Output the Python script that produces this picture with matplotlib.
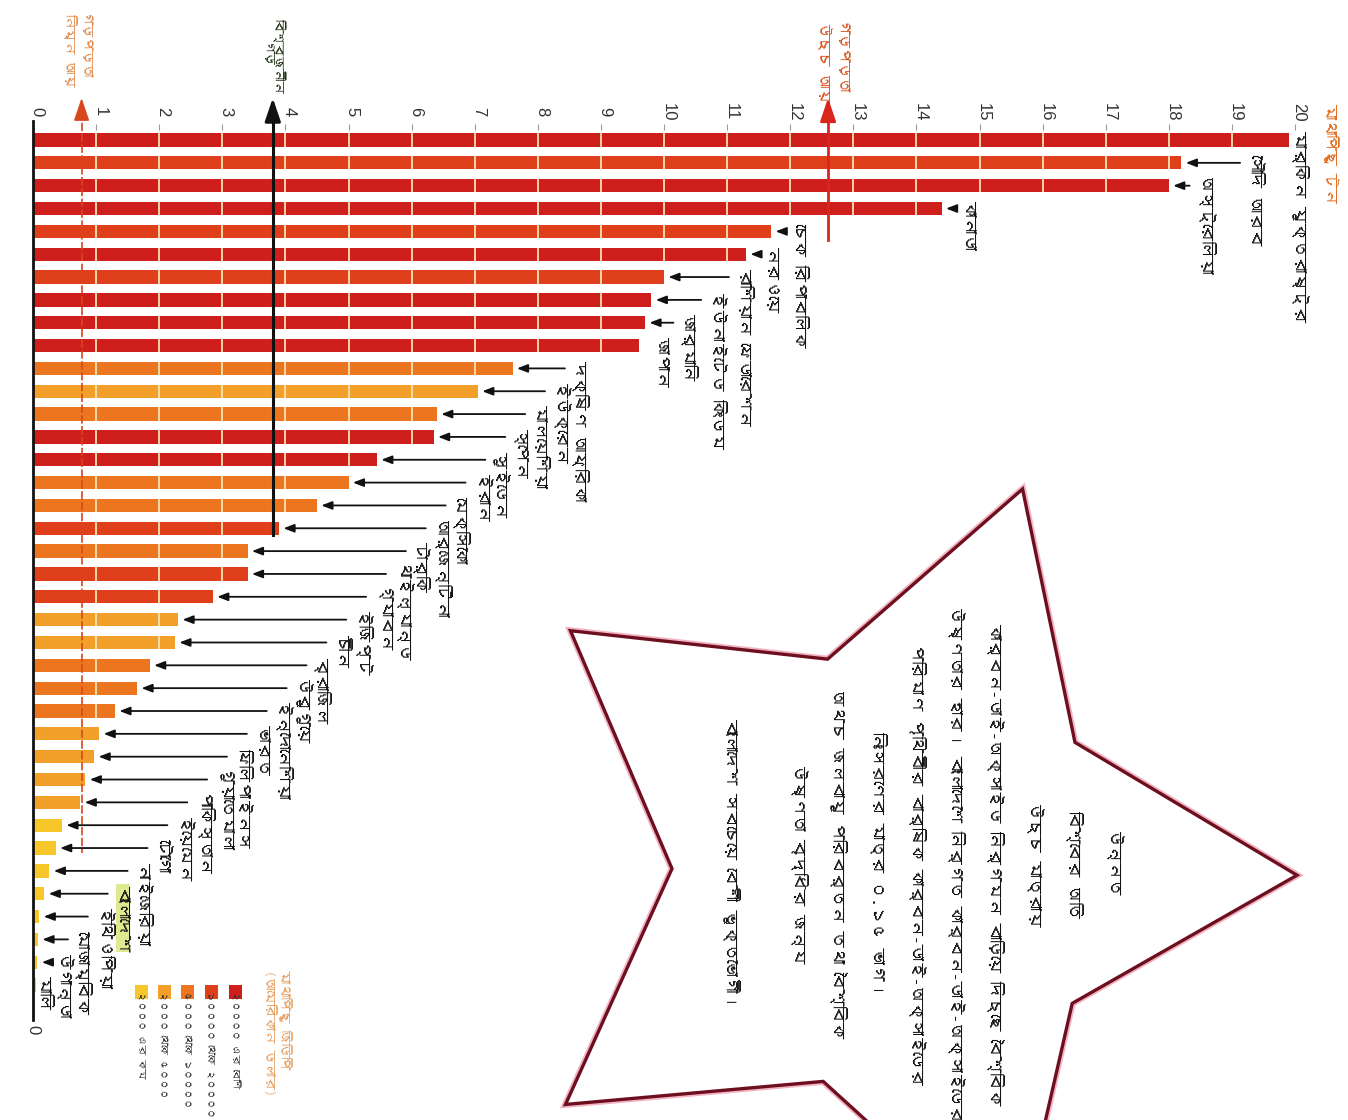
import numpy as np
import matplotlib
matplotlib.use("Agg")
import matplotlib.pyplot as plt
from matplotlib import font_manager
from matplotlib.patches import Polygon, Rectangle

# ---------------- data ----------------
countries = [
    "মার্কিন যুক্তরাষ্ট্র", "সৌদি আরব", "অস্ট্রেলিয়া", "কানাডা", "চেক রিপাবলিক",
    "নরওয়ে", "রাশিয়ান ফেডারেশন", "ইউনাইটেড কিংডম", "জার্মানি", "জাপান",
    "দক্ষিণ আফ্রিকা", "ইউক্রেন", "মালয়েশিয়া", "স্পেন", "সুইডেন", "ইরান",
    "মেক্সিকো", "আর্জেন্টিনা", "টার্কি", "থাইল্যান্ড", "গ্যাবন", "ইজিপ্ট",
    "চীন", "ব্রাজিল", "উরুগুয়ে", "ইন্দোনেশিয়া", "ভারত", "ফিলিপাইনস",
    "গুয়াতেমালা", "পাকিস্তান", "ইয়েমেন", "টোগো", "নাইজেরিয়া", "বাংলাদেশ",
    "ইথিওপিয়া", "মোজাম্বিক", "উগান্ডা", "মালি",
]
co2_per_capita = [
    19.9, 18.2, 18.0, 14.4, 11.7, 11.3, 10.0, 9.8, 9.7, 9.6,
    7.6, 7.05, 6.4, 6.35, 5.45, 5.0, 4.5, 3.9, 3.4, 3.4, 2.85, 2.3,
    2.25, 1.85, 1.65, 1.3, 1.05, 0.97, 0.83, 0.75, 0.46, 0.36, 0.26, 0.18,
    0.1, 0.08, 0.07, 0.05,
]
# GDP class: 0 = >20000, 1 = 10000-20000, 2 = 5000-10000, 3 = 2000-5000, 4 = <2000
gdp_class = [
    0, 1, 0, 0, 1, 0, 1, 0, 0, 0,
    2, 3, 2, 0, 0, 2, 2, 1, 2, 1, 1, 3,
    3, 2, 2, 2, 3, 3, 3, 3, 4, 4, 4, 4,
    4, 4, 4, 4,
]
gdp_legend_labels = ["২০০০০ এর বেশি", "১০০০০ থেকে ২০০০০", "৫০০০ থেকে ১০০০০",
                     "২০০০ থেকে ৫০০০", "২০০০ এর কম"]
ref_high_income = 12.6
ref_world = 3.8
ref_low_income = 0.77
tick_values = list(range(0, 21))

star_lines = [
    "উন্নত", "বিশ্বের অতি", "উচ্চ মাত্রায়",
    "কার্বন-ডাই-অক্সাইড নির্গমন বাড়িয়ে দিচ্ছে বৈশ্বিক",
    "উষ্ণতার হার। বাংলাদেশে নির্গত কার্বন-ডাই-অক্সাইডের",
    "পরিমাণ পৃথিবীর বার্ষিক কার্বন-ডাই-অক্সাইডের",
    "নিঃসরণের মাত্র ০.১৫ ভাগ।",
    "অথচ জলবায়ু পরিবর্তন তথা বৈশ্বিক",
    "উষ্ণতা বৃদ্ধির জন্য", "",
    "বাংলাদেশ সবচেয়ে বেশী ভুক্তভোগী।",
]

# ---------------- fonts ----------------
def find_bengali_font():
    from matplotlib.ft2font import FT2Font
    seen = set()
    for f in font_manager.fontManager.ttflist:
        if f.fname in seen:
            continue
        seen.add(f.fname)
        try:
            cm = FT2Font(f.fname).get_charmap()
        except Exception:
            continue
        if 0x0995 in cm and 0x09BE in cm:
            return f.name
    return None

bn = find_bengali_font()
FAM = [bn, "DejaVu Sans"] if bn else ["DejaVu Sans"]
plt.rcParams["font.family"] = FAM

class_colors = ["#cf1f1d", "#e03f1c", "#ec7620", "#f3a02a", "#f7c62b"]

# ---------------- layout ----------------
W, H = 1348, 1120
X0, PX = 33.0, 63.1       # pixel of value 0, pixels per unit
Y0, ROW = 140.0, 22.84    # pixel of first row, pixels per row

def dx(px):
    return (px - X0) / PX

def dy(py):
    return (py - Y0) / ROW

fig = plt.figure(figsize=(W / 100, H / 100), dpi=100)
fig.patch.set_facecolor("white")
ax = fig.add_axes([0, 0, 1, 1])
ax.set_xlim(dx(0), dx(W))
ax.set_ylim(dy(H), dy(0))
ax.axis("off")

n = len(countries)
rows = np.arange(n)
bar_h = 0.58
colors = [class_colors[c] for c in gdp_class]
ax.barh(rows, co2_per_capita, height=bar_h, color=colors, left=0, zorder=2)

# light separators inside bars at every unit
sx, sy0, sy1 = [], [], []
for i, v in enumerate(co2_per_capita):
    for k in range(1, int(np.floor(v)) + 1):
        if k < v - 0.05:
            sx.append(k); sy0.append(i - bar_h / 2); sy1.append(i + bar_h / 2)
ax.vlines(sx, sy0, sy1, colors="#fbe2b0", lw=1.3, zorder=3)

# value axis line and ticks
ax.plot([0, 0], [dy(121), dy(1020)], color="#111", lw=2, zorder=4)
for v in tick_values:
    ax.text(v + 0.06, dy(112), str(v), rotation=-90, ha="center", va="center",
            fontsize=12, color="#333", family="Liberation Sans")
ax.vlines(tick_values[1:], dy(124), dy(130), colors="#999", lw=0.8)
ax.text(0, dy(1030), "0", rotation=-90, ha="center", va="center",
        fontsize=12, color="#333", family="Liberation Sans")

ax.text(dx(1331), dy(104), "মাথাপিছু টন", rotation=-90, ha="center", va="top",
        fontsize=11, color="#e06a1b")

# country labels with arrows
top_offsets = [0.18, 1.17, 0.57, 0.43]

def label_x(i):
    if i < 4:
        return co2_per_capita[i] + top_offsets[i]
    if i < 10:
        return 12.15 - 0.44 * (i - 4)
    return 8.67 - 0.315 * (i - 10)

for i, (name, v) in enumerate(zip(countries, co2_per_capita)):
    lx = label_x(i)
    kw = {}
    if name == "বাংলাদেশ":
        kw["bbox"] = dict(boxstyle="square,pad=0.05", fc="#dfe98f", ec="none")
    ax.text(lx, i - 0.38, name, rotation=-90, ha="center", va="top",
            fontsize=12, color="#111", zorder=6, **kw)
    tail = lx - 0.24
    head = v + 0.07
    if i > 0 and tail - head > 0.08:
        ax.annotate("", xy=(head, i), xytext=(tail, i),
                    arrowprops=dict(arrowstyle="-|>,head_length=0.9,head_width=0.35",
                                    mutation_scale=7, lw=1.3, color="#111",
                                    shrinkA=0, shrinkB=0), zorder=5)

# reference lines
def ref_arrow(x, y_end_px, color, lw, ls="-"):
    ax.plot([x, x], [dy(112), dy(y_end_px)], color=color, lw=lw, ls=ls, zorder=4)
    ax.annotate("", xy=(x, dy(98)), xytext=(x, dy(114)),
                arrowprops=dict(arrowstyle="-|>,head_length=1.0,head_width=0.34",
                                mutation_scale=14, lw=lw, color=color,
                                shrinkA=0, shrinkB=0), zorder=5)

ref_arrow(ref_high_income, 240, "#d8261c", 2.0)
ref_arrow(ref_world, 535, "#111111", 2.2)
ref_arrow(ref_low_income, 853, "#d8461e", 1.2, ls=(0, (5, 1.5)))

ax.text(ref_high_income + 0.05, dy(22), "গড়পড়তা\nউচ্চ আয়", rotation=-90,
        ha="center", va="top", multialignment="left", fontsize=10.5,
        color="#d9531e", linespacing=1.1)
ax.text(ref_world, dy(18), "বিশ্বজনীন\nগড়", rotation=-90, ha="center", va="top",
        multialignment="center", fontsize=9, color="#1f3316", linespacing=1.15)
ax.text(ref_low_income - 0.08, dy(14), "গড়পড়তা\nনিম্ন আয়", rotation=-90,
        ha="center", va="top", multialignment="left", fontsize=9.5,
        color="#e08a4a", linespacing=1.1)

# legend (bottom-left)
leg_x = [235, 211, 187, 164, 141]
for k, (lab, cx) in enumerate(zip(gdp_legend_labels, leg_x)):
    ax.add_patch(Rectangle((dx(cx - 6.5), dy(985.5)), 13 / PX, 13 / ROW,
                           fc=class_colors[k], ec="none", zorder=3))
    ax.text(dx(cx), dy(991), lab, rotation=-90, ha="center", va="top",
            fontsize=7.0, color="#333")
ax.text(dx(277), dy(970), "মাথাপিছু জিডিপি\n(আমেরিকান ডলার)", rotation=-90,
        ha="center", va="top", multialignment="left", fontsize=9.5,
        color="#e6a062", linespacing=1.2)

# star
cx, cy, R, r = 894.0, 871.0, 403.0, 222.0
a0 = np.deg2rad(-71.4)
pts = []
for k in range(10):
    ang = a0 + k * np.pi / 5
    rad = R if k % 2 == 0 else r
    pts.append((dx(cx + rad * np.cos(ang)), dy(cy + rad * np.sin(ang))))
ax.add_patch(Polygon(pts, closed=True, fc="white", ec="#e46a86", lw=5,
                     alpha=0.5, zorder=1))
ax.add_patch(Polygon(pts, closed=True, fc="white", ec="#6e0f1f", lw=2.4,
                     zorder=1.5))
ax.text(dx(922), dy(864), "\n".join(star_lines), rotation=-90, ha="center",
        va="center", multialignment="center", fontsize=12, color="#111",
        linespacing=2.44, zorder=6)

fig.savefig("out.png", dpi=100, facecolor="white")
